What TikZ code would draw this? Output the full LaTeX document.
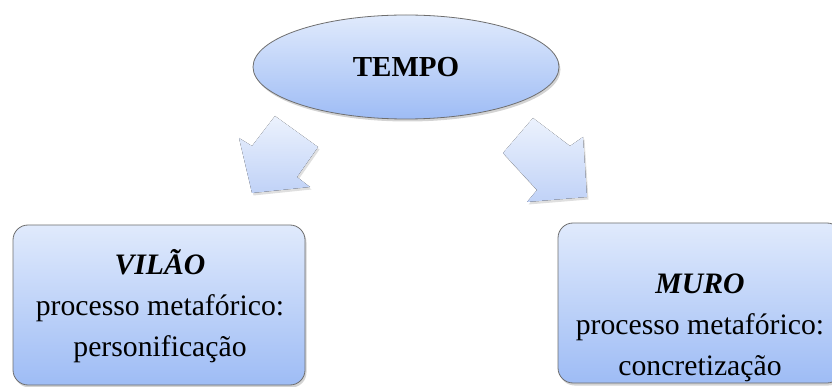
\documentclass[tikz,border=0pt]{standalone}
\usepackage{fontspec}
\setmainfont{Liberation Serif}
\usetikzlibrary{shapes.geometric,shadows,calc}
\definecolor{topblue}{RGB}{224,234,252}
\definecolor{botblue}{RGB}{158,188,245}
\definecolor{arrtop}{RGB}{236,242,253}
\definecolor{arrbot}{RGB}{192,210,247}
\definecolor{edgegray}{RGB}{110,110,110}
\tikzset{
  shapefill/.style={top color=topblue, bottom color=botblue, draw=edgegray, line width=0.8pt,
    drop shadow={opacity=0.35, shadow xshift=1.5pt, shadow yshift=-2.5pt}},
  ovalnode/.style={shapefill, ellipse, minimum width=306pt, minimum height=104pt, inner sep=0pt},
  boxnode/.style={shapefill, rectangle, rounded corners=15pt, inner sep=0pt},
  txt/.style={align=center, inner sep=0pt, font=\fontsize{29.7}{41}\selectfont},
  bigarrow/.style={top color=arrtop, bottom color=arrbot, draw=none,
    drop shadow={opacity=0.25, shadow xshift=1.5pt, shadow yshift=-2.5pt}}
}
\begin{document}
\begin{tikzpicture}[x=1pt,y=-1pt]
\useasboundingbox (0,0) rectangle (832,387);
% arrows
\coordinate (la1) at (275,116);
\coordinate (la2) at (318,147);
\coordinate (la3) at (297,177);
\coordinate (la4) at (310,187);
\coordinate (la5) at (252,193);
\coordinate (la6) at (239,138);
\coordinate (la7) at (252,146);
\fill[bigarrow] (la1) -- (la2) -- (la3) -- (la4) -- (la5) -- (la6) -- (la7) -- cycle;
\coordinate (ra1) at (533,118);
\coordinate (ra2) at (570,146);
\coordinate (ra3) at (583,137);
\coordinate (ra4) at (587,197);
\coordinate (ra5) at (527,202);
\coordinate (ra6) at (537,190);
\coordinate (ra7) at (503,153);
\fill[bigarrow] (ra1) -- (ra2) -- (ra3) -- (ra4) -- (ra5) -- (ra6) -- (ra7) -- cycle;
% ellipse
\node[ovalnode, font=\fontsize{29}{35}\selectfont\bfseries] (tempo) at (406,67) {TEMPO};
% boxes
\node[boxnode, minimum width=292pt, minimum height=160pt] (vilao) at (159,305) {};
\node[txt] (vilaoT) at (160,306) {\textbf{\textit{VILÃO}}\\processo metafórico:\\personificação};
\node[boxnode, minimum width=284pt, minimum height=160pt] (muro) at (700,303) {};
\node[txt] (muroT) at (700,328) {\textbf{\textit{MURO}}\\processo metafórico:\\concretização};
\end{tikzpicture}
\end{document}
